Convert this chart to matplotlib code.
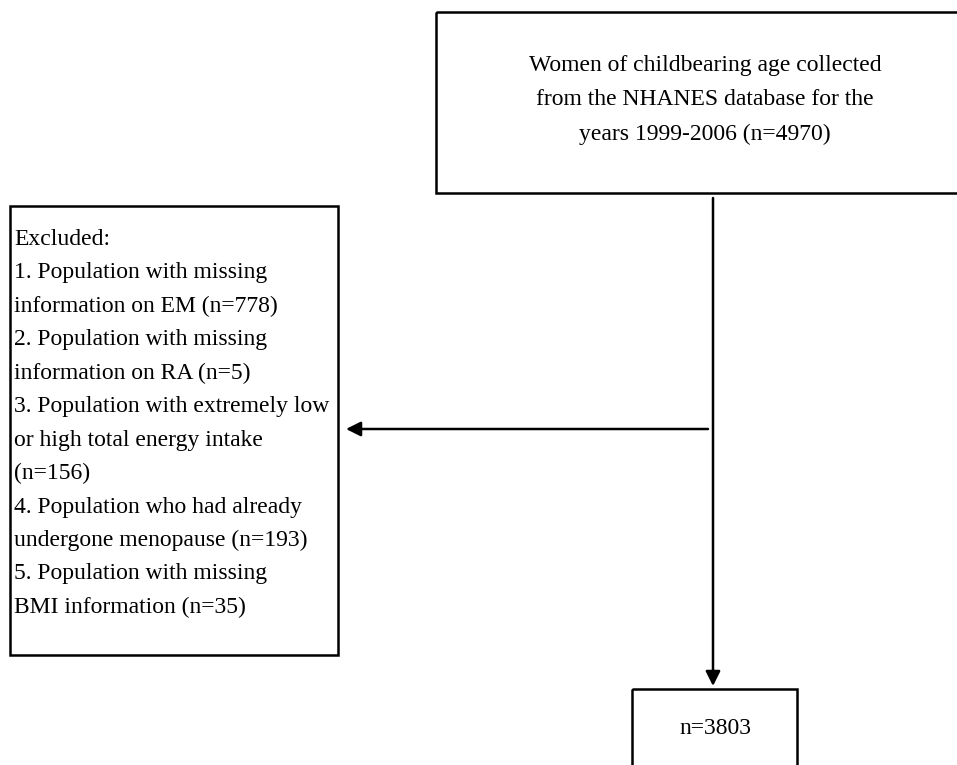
import matplotlib
matplotlib.use("Agg")
import matplotlib.pyplot as plt
from matplotlib.patches import Rectangle

# ---- content ----
top_lines = ["Women of childbearing age collected",
             "from the NHANES database for the",
             "years 1999-2006 (n=4970)"]
excluded_lines = ["Excluded:",
                  "1. Population with missing",
                  "information on EM (n=778)",
                  "2. Population with missing",
                  "information on RA (n=5)",
                  "3. Population with extremely low",
                  "or high total energy intake",
                  "(n=156)",
                  "4. Population who had already",
                  "undergone menopause (n=193)",
                  "5. Population with missing",
                  "BMI information (n=35)"]
final_label = "n=3803"

W, H = 957, 765
fig = plt.figure(figsize=(W / 100, H / 100), dpi=100)
ax = fig.add_axes([0, 0, 1, 1])
ax.set_xlim(0, W)
ax.set_ylim(H, 0)
ax.axis("off")

font = dict(family=["Liberation Serif", "DejaVu Serif"], fontsize=17, color="black")
lw = 1.8

# top box (right edge runs past the picture)
ax.add_patch(Rectangle((436, 12), 560, 181, fill=False, lw=lw, ec="black"))
for i, t in enumerate(top_lines):
    ax.text(705, 65 + i * 34.5, t, ha="center", va="center", **font)

# left (excluded) box
ax.add_patch(Rectangle((10, 206), 328, 449, fill=False, lw=lw, ec="black"))
for i, t in enumerate(excluded_lines):
    ax.text(14, 239 + i * 33.5, t, ha="left", va="center", **font)

# bottom box (bottom edge runs past the picture)
ax.add_patch(Rectangle((632, 689), 165, 120, fill=False, lw=lw, ec="black"))
ax.text(715, 728, final_label, ha="center", va="center", **font)

# vertical arrow
ax.annotate("", xy=(713, 686), xytext=(713, 198),
            arrowprops=dict(arrowstyle="-|>", lw=lw, color="black",
                            mutation_scale=22, shrinkA=0, shrinkB=0))
# horizontal arrow
ax.annotate("", xy=(346, 429), xytext=(708, 429),
            arrowprops=dict(arrowstyle="-|>", lw=lw, color="black",
                            mutation_scale=22, shrinkA=0, shrinkB=0))

fig.savefig("out.png", dpi=100, facecolor="white")
